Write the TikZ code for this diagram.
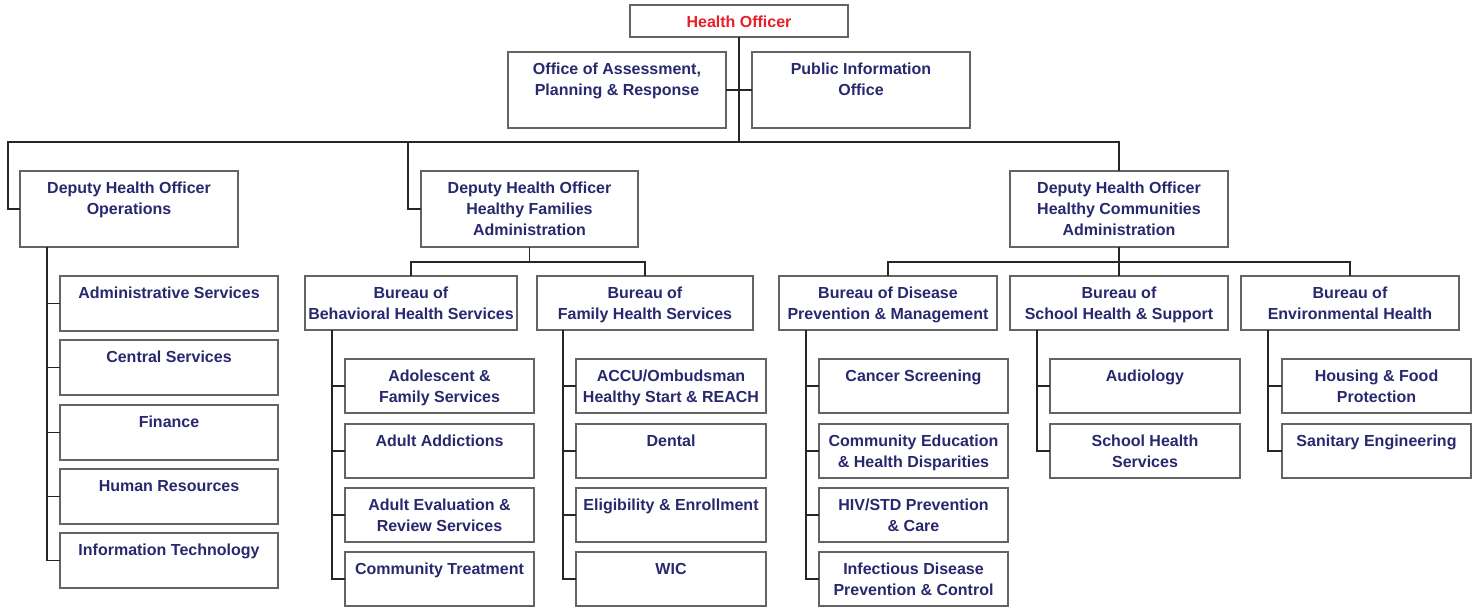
\documentclass[tikz,border=0pt]{standalone}
\usepackage{fontspec}
\setmainfont{Liberation Sans}
\definecolor{navy}{RGB}{40,40,110}
\definecolor{hored}{RGB}{232,30,40}
\definecolor{bordergray}{RGB}{100,100,100}
\tikzset{
  box/.style={draw=bordergray, line width=1.3pt, rectangle, anchor=north west, inner sep=0pt, outer sep=0pt},
  txt/.style={text=navy, font=\fontsize{16}{21}\selectfont\bfseries, align=center, inner sep=0pt},
  conn/.style={draw=black!85, line width=1.2pt}
}
\newcommand\bx[7][txt]{%
  \node[box, minimum width=#5pt, minimum height=#6pt,
        label={[#1, anchor=north, yshift=-11pt]north:{#7}}] (#2) at (#3,#4) {};}
\begin{document}
\begin{tikzpicture}[x=1pt,y=-1pt]
\useasboundingbox (0,0) rectangle (1480,607);
% top
\bx[txt,text=hored]{ho}{630}{5}{218}{32}{Health Officer}
\bx{oap}{508}{52}{218}{76}{Office of Assessment,\\Planning \& Response}
\bx{pio}{752}{52}{218}{76}{Public Information\\Office}
\coordinate (bus) at (739,142);
\draw[conn] (ho.south) -- (bus);
\draw[conn] (oap.east) -- (pio.west);
% deputies
\bx{ops}{20}{171}{218}{76}{Deputy Health Officer\\Operations}
\bx{hf}{421}{171}{217}{76}{Deputy Health Officer\\Healthy Families\\Administration}
\bx{hc}{1010}{171}{218}{76}{Deputy Health Officer\\Healthy Communities\\Administration}
\draw[conn] (ops.west) -- ++(-12,0) |- (bus);
\draw[conn] (hf.west) -- ++(-13,0) |- (bus);
\draw[conn] (bus) -| (hc.north);
% operations children
\bx{adm}{60}{276}{218}{55}{Administrative Services}
\bx{cen}{60}{340}{218}{55}{Central Services}
\bx{fin}{60}{405}{218}{55}{Finance}
\bx{hr}{60}{469}{218}{55}{Human Resources}
\bx{it}{60}{533}{218}{55}{Information Technology}
\foreach \c in {adm,cen,fin,hr,it}{\draw[conn] ([xshift=27pt]ops.south west) |- (\c.west);}
% healthy families bureaus
\bx{bbh}{305}{276}{212}{54}{Bureau of\\Behavioral Health Services}
\bx{bfh}{537}{276}{216}{54}{Bureau of\\Family Health Services}
\draw[conn] (hf.south) -- ++(0,15) coordinate (hfb);
\draw[conn] (hfb) -| (bbh.north);
\draw[conn] (hfb) -| (bfh.north);
\bx{ado}{345}{359}{189}{54}{Adolescent \&\\Family Services}
\bx{add}{345}{424}{189}{54}{Adult Addictions}
\bx{aer}{345}{488}{189}{54}{Adult Evaluation \&\\Review Services}
\bx{ctr}{345}{552}{189}{54}{Community Treatment}
\foreach \c in {ado,add,aer,ctr}{\draw[conn] ([xshift=27pt]bbh.south west) |- (\c.west);}
\bx{acc}{576}{359}{190}{54}{ACCU/Ombudsman\\Healthy Start \& REACH}
\bx{den}{576}{424}{190}{54}{Dental}
\bx{eli}{576}{488}{190}{54}{Eligibility \& Enrollment}
\bx{wic}{576}{552}{190}{54}{WIC}
\foreach \c in {acc,den,eli,wic}{\draw[conn] ([xshift=26pt]bfh.south west) |- (\c.west);}
% healthy communities bureaus
\bx{bdp}{779}{276}{218}{54}{Bureau of Disease\\Prevention \& Management}
\bx{bsh}{1010}{276}{218}{54}{Bureau of\\School Health \& Support}
\bx{beh}{1241}{276}{218}{54}{Bureau of\\Environmental Health}
\draw[conn] (hc.south) -- ++(0,15) coordinate (hcb);
\draw[conn] (hcb) -| (bdp.north);
\draw[conn] (hcb) -- (bsh.north);
\draw[conn] (hcb) -| (beh.north);
\bx{can}{819}{359}{189}{54}{Cancer Screening}
\bx{ced}{819}{424}{189}{54}{Community Education\\\& Health Disparities}
\bx{hiv}{819}{488}{189}{54}{HIV/STD Prevention\\\& Care}
\bx{inf}{819}{552}{189}{54}{Infectious Disease\\Prevention \& Control}
\foreach \c in {can,ced,hiv,inf}{\draw[conn] ([xshift=27pt]bdp.south west) |- (\c.west);}
\bx{aud}{1050}{359}{190}{54}{Audiology}
\bx{shs}{1050}{424}{190}{54}{School Health\\Services}
\foreach \c in {aud,shs}{\draw[conn] ([xshift=27pt]bsh.south west) |- (\c.west);}
\bx{hfp}{1282}{359}{189}{54}{Housing \& Food\\Protection}
\bx{san}{1282}{424}{189}{54}{Sanitary Engineering}
\foreach \c in {hfp,san}{\draw[conn] ([xshift=27pt]beh.south west) |- (\c.west);}
\end{tikzpicture}
\end{document}
